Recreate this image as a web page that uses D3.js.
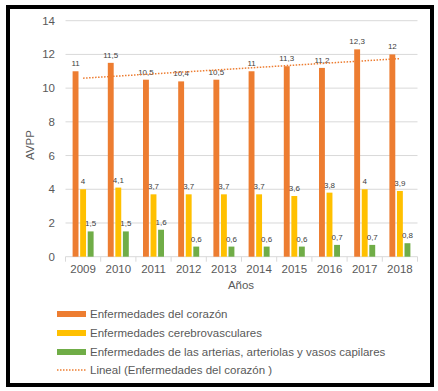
<!DOCTYPE html>
<html>
<head>
<meta charset="utf-8">
<script src="https://cdn.jsdelivr.net/npm/d3@7"></script>
<style>
  body { margin: 0; background: #fff; }
  svg { display: block; font-family: "Liberation Sans", Arial, sans-serif; }
</style>
</head>
<body>
<div id="chart"></div>
<script>
var years = ["2009","2010","2011","2012","2013","2014","2015","2016","2017","2018"];
var corazon = [11, 11.5, 10.5, 10.4, 10.5, 11, 11.3, 11.2, 12.3, 12];
var cerebro = [4, 4.1, 3.7, 3.7, 3.7, 3.7, 3.6, 3.8, 4, 3.9];
var arterias = [1.5, 1.5, 1.6, 0.6, 0.6, 0.6, 0.6, 0.7, 0.7, 0.8];
var seriesNames = ["Enfermedades del corazón", "Enfermedades cerebrovasculares",
  "Enfermedades de las arterias, arteriolas y vasos capilares"];
var trendName = "Lineal (Enfermedades del corazón )";
var colors = ["#ED7D31", "#FFC000", "#70AD47"];
var yTicks = [0, 2, 4, 6, 8, 10, 12, 14];

var width = 438, height = 391;
var plotL = 65.5, plotR = 417.5, plotT = 20.7, plotB = 256.7;

var svg = d3.select("#chart").append("svg")
  .attr("width", width)
  .attr("height", height);

svg.append("rect").attr("width", width).attr("height", height).attr("fill", "#fff");
// heavy black frame
svg.append("rect")
  .attr("x", 8).attr("y", 7).attr("width", 424).attr("height", 378)
  .attr("fill", "none").attr("stroke", "#000").attr("stroke-width", 4);

var x = d3.scaleBand().domain(years).range([plotL, plotR]);
var y = d3.scaleLinear().domain([0, 14]).range([plotB, plotT]);
var sub = d3.scaleBand().domain([0, 1, 2]).range([-10.5, 10.5]).paddingInner(0.22);

// gridlines
svg.append("g").selectAll("line")
  .data(yTicks.filter(d => d > 0))
  .enter().append("line")
  .attr("x1", plotL).attr("x2", plotR)
  .attr("y1", d => y(d)).attr("y2", d => y(d))
  .attr("stroke", "#d9d9d9").attr("stroke-width", 1);

// y tick labels
svg.append("g").selectAll("text")
  .data(yTicks)
  .enter().append("text")
  .attr("x", 55).attr("y", d => y(d) + 4)
  .attr("text-anchor", "end")
  .attr("font-size", 11.5).attr("fill", "#595959")
  .text(d => d);

// x axis
var xAxis = svg.append("g");
xAxis.append("line")
  .attr("x1", plotL).attr("x2", plotR).attr("y1", plotB).attr("y2", plotB)
  .attr("stroke", "#d9d9d9");
xAxis.selectAll(".tk")
  .data(years.concat(["end"]))
  .enter().append("line")
  .attr("x1", (d, i) => plotL + i * x.step()).attr("x2", (d, i) => plotL + i * x.step())
  .attr("y1", plotB).attr("y2", plotB + 5)
  .attr("stroke", "#d9d9d9");
xAxis.selectAll("text")
  .data(years)
  .enter().append("text")
  .attr("x", d => x(d) + x.bandwidth() / 2).attr("y", 273)
  .attr("text-anchor", "middle")
  .attr("font-size", 11.5).attr("fill", "#595959")
  .text(d => d);

svg.append("text")
  .attr("x", 241).attr("y", 289)
  .attr("text-anchor", "middle")
  .attr("font-size", 11.5).attr("fill", "#595959")
  .text("Años");

svg.append("text")
  .attr("transform", "translate(34,145) rotate(-90)")
  .attr("text-anchor", "middle")
  .attr("font-size", 11.5).attr("fill", "#595959")
  .text("AVPP");

// bars
var all = [corazon, cerebro, arterias];
all.forEach(function(vals, s) {
  var g = svg.append("g");
  g.selectAll("rect")
    .data(vals)
    .enter().append("rect")
    .attr("x", (d, i) => x(years[i]) + x.bandwidth() / 2 + sub(s))
    .attr("width", sub.bandwidth())
    .attr("y", d => y(d))
    .attr("height", d => plotB - y(d))
    .attr("fill", colors[s]);
  g.selectAll("text")
    .data(vals)
    .enter().append("text")
    .attr("x", (d, i) => x(years[i]) + x.bandwidth() / 2 + sub(s) + sub.bandwidth() / 2)
    .attr("y", d => y(d) - 5)
    .attr("text-anchor", "middle")
    .attr("font-size", 8).attr("fill", "#404040")
    .text(d => String(d).replace(".", ","));
});

// linear trend (least squares on heart disease series)
var n = corazon.length;
var mx = d3.mean(d3.range(n)), my = d3.mean(corazon);
var sxy = d3.sum(corazon, (v, i) => (i - mx) * (v - my));
var sxx = d3.sum(d3.range(n), i => (i - mx) * (i - mx));
var slope = sxy / sxx, icpt = my - slope * mx;
var cx = i => x(years[i]) + x.bandwidth() / 2;
svg.append("line")
  .attr("x1", cx(0)).attr("y1", y(icpt))
  .attr("x2", cx(n - 1)).attr("y2", y(icpt + slope * (n - 1)))
  .attr("stroke", colors[0]).attr("stroke-width", 1.5)
  .attr("stroke-dasharray", "1.5,1.5");

// legend
var legend = svg.append("g");
var ly = [314, 333, 352, 370];
seriesNames.forEach(function(name, i) {
  legend.append("rect")
    .attr("x", 57).attr("y", ly[i] - 3).attr("width", 29).attr("height", 6)
    .attr("fill", colors[i]);
  legend.append("text")
    .attr("x", 90).attr("y", ly[i] + 4)
    .attr("font-size", 11.5).attr("fill", "#595959")
    .text(name);
});
legend.append("line")
  .attr("x1", 57).attr("x2", 86).attr("y1", ly[3]).attr("y2", ly[3])
  .attr("stroke", colors[0]).attr("stroke-width", 1.5)
  .attr("stroke-dasharray", "1.5,1.5");
legend.append("text")
  .attr("x", 90).attr("y", ly[3] + 4)
  .attr("font-size", 11.5).attr("fill", "#595959")
  .text(trendName);
</script>
</body>
</html>
